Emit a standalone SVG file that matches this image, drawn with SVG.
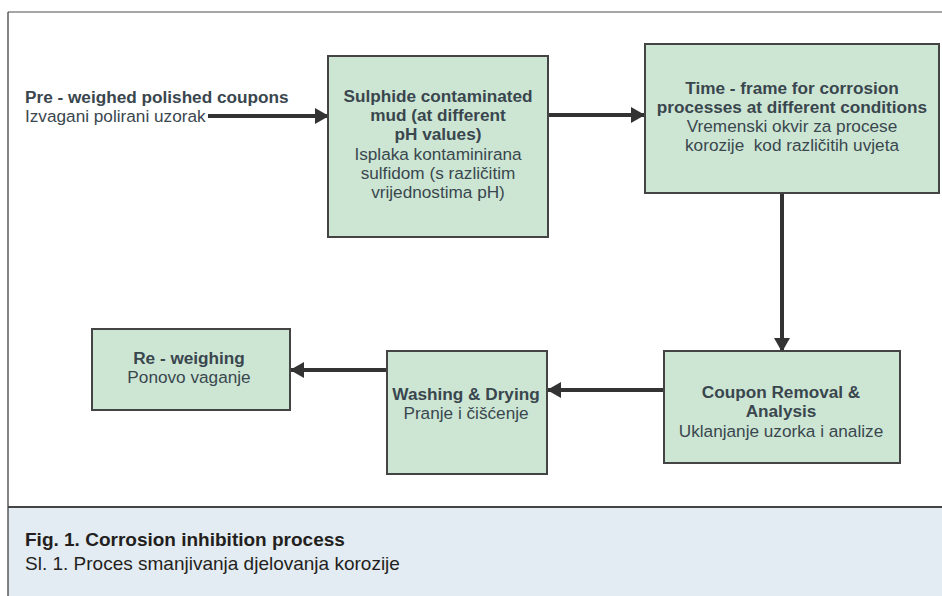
<svg xmlns="http://www.w3.org/2000/svg" width="942" height="596" viewBox="0 0 942 596">
<style>
  .box{fill:#cde6d4;stroke:#444;stroke-width:2}
  .t{font-family:"Liberation Sans",Arial,sans-serif;font-size:17.2px;fill:#3a464e}
  .b{font-weight:bold}
  .m{text-anchor:middle}
  .conn{stroke:#333;stroke-width:4;fill:none}
  .cap{font-family:"Liberation Sans",Arial,sans-serif;font-size:19px;fill:#231f20}
</style>
<defs>
  <marker id="ah" markerUnits="userSpaceOnUse" markerWidth="14" markerHeight="16" refX="14" refY="8" orient="auto">
    <path d="M0,0 L14,8 L0,16 Z" fill="#333"/>
  </marker>
</defs>
<rect x="0" y="0" width="942" height="596" fill="#fff"/>
<rect x="8" y="507" width="934" height="89" fill="#e3ecf2"/>
<line x1="8" y1="12" x2="942" y2="12" stroke="#888" stroke-width="1.5"/>
<line x1="8" y1="12" x2="8" y2="596" stroke="#333" stroke-width="1.2"/>
<line x1="8" y1="507" x2="942" y2="507" stroke="#444" stroke-width="2"/>

<g id="connectors">
  <line class="conn" x1="208" y1="116" x2="329" y2="116" marker-end="url(#ah)"/>
  <line class="conn" x1="548" y1="115" x2="645" y2="115" marker-end="url(#ah)"/>
  <line class="conn" x1="782" y1="193" x2="782" y2="352" marker-end="url(#ah)"/>
  <line class="conn" x1="664" y1="390" x2="547" y2="390" marker-end="url(#ah)"/>
  <line class="conn" x1="387" y1="370" x2="290" y2="370" marker-end="url(#ah)"/>
</g>

<g id="start">
  <text class="t b" x="25" y="103">Pre - weighed polished coupons</text>
  <text class="t" x="25" y="122">Izvagani polirani uzorak</text>
</g>

<g id="sulphide">
  <rect class="box" x="328" y="56" width="220" height="181"/>
  <text class="t b m" x="438" y="102">Sulphide contaminated</text>
  <text class="t b m" x="438" y="121">mud (at different</text>
  <text class="t b m" x="438" y="140">pH values)</text>
  <text class="t m" x="438" y="160">Isplaka kontaminirana</text>
  <text class="t m" x="438" y="179">sulfidom (s različitim</text>
  <text class="t m" x="438" y="198">vrijednostima pH)</text>
</g>

<g id="timeframe">
  <rect class="box" x="645" y="44" width="294" height="149"/>
  <text class="t b m" x="792" y="94">Time - frame for corrosion</text>
  <text class="t b m" x="792" y="113">processes at different conditions</text>
  <text class="t m" x="792" y="132">Vremenski okvir za procese</text>
  <text class="t m" x="792" y="151" xml:space="preserve">korozije  kod različitih uvjeta</text>
</g>

<g id="coupon">
  <rect class="box" x="664" y="351" width="236" height="112"/>
  <text class="t b m" x="781" y="398">Coupon Removal &amp;</text>
  <text class="t b m" x="781" y="417">Analysis</text>
  <text class="t m" x="781" y="437">Uklanjanje uzorka i analize</text>
</g>

<g id="washing">
  <rect class="box" x="387" y="351" width="160" height="123"/>
  <text class="t b m" x="466" y="400">Washing &amp; Drying</text>
  <text class="t m" x="466" y="419">Pranje i čišćenje</text>
</g>

<g id="reweighing">
  <rect class="box" x="92" y="329" width="198" height="81"/>
  <text class="t b m" x="189" y="364">Re - weighing</text>
  <text class="t m" x="189" y="383">Ponovo vaganje</text>
</g>

<g id="caption">
  <text class="cap b" x="25" y="546">Fig. 1. Corrosion inhibition process</text>
  <text class="cap" x="25" y="570">Sl. 1. Proces smanjivanja djelovanja korozije</text>
</g>
</svg>
